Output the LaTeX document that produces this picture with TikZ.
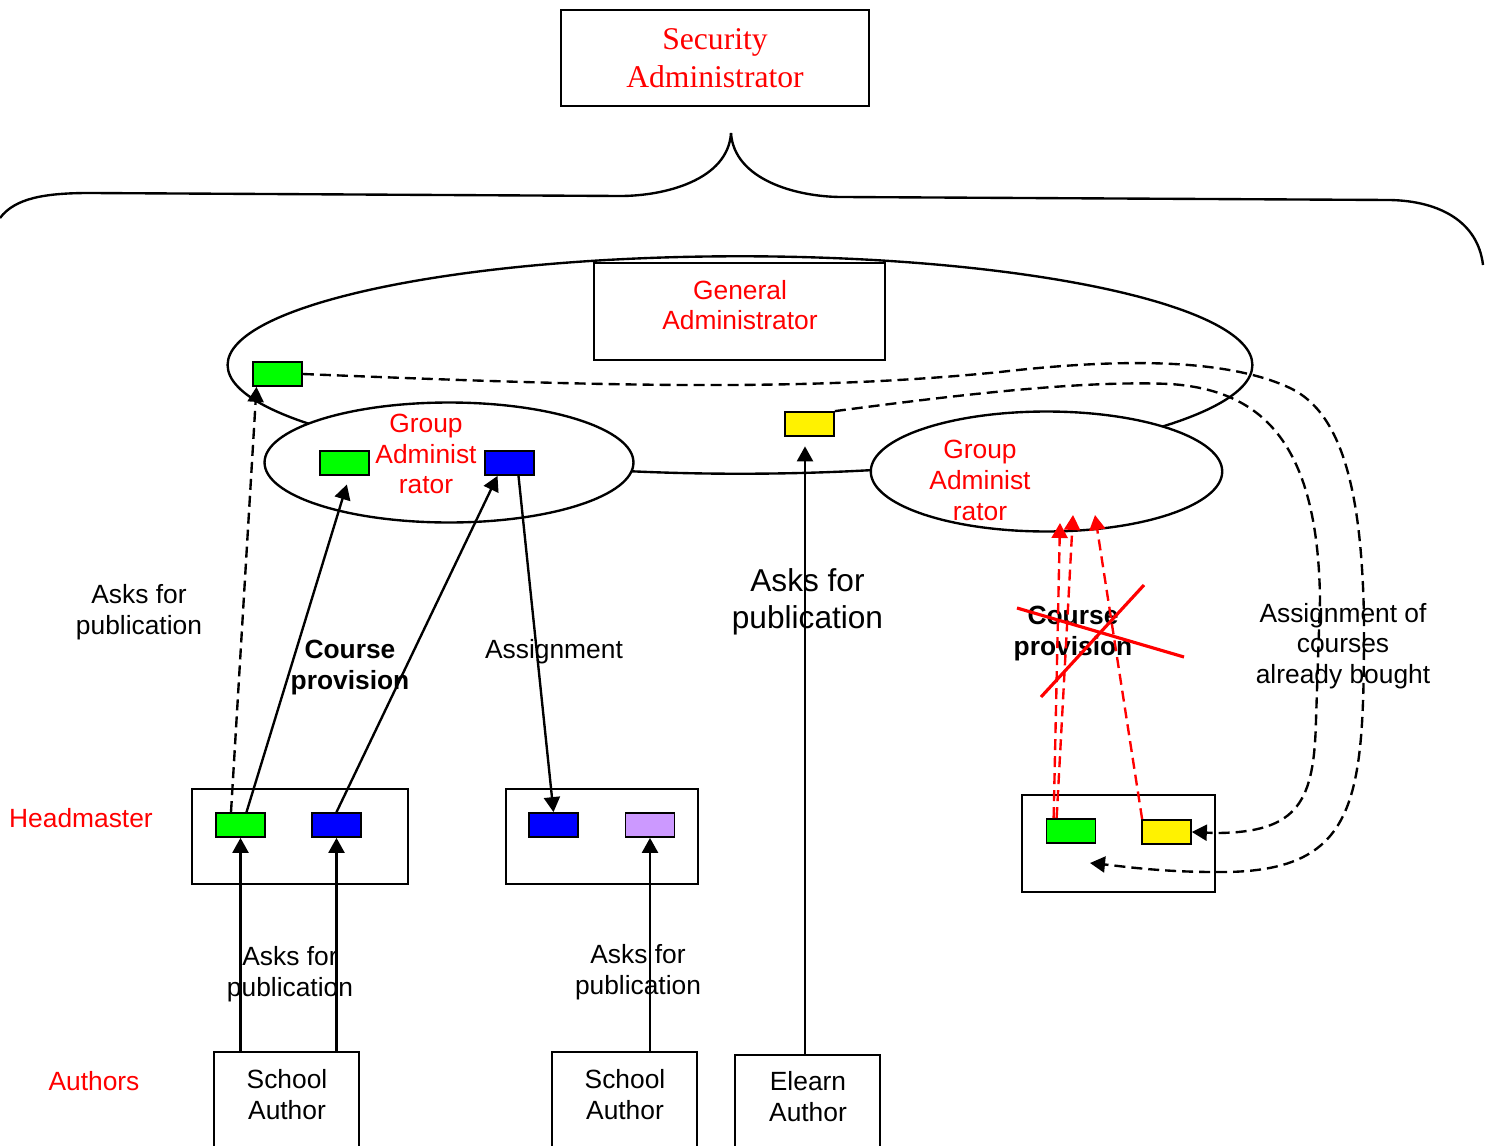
\documentclass[tikz,border=0pt]{standalone}
\usepackage{fontspec}
\setmainfont{Liberation Sans}
\newfontfamily\timesfont{Liberation Serif}
\usetikzlibrary{positioning,calc,shapes.geometric,arrows.meta}
\definecolor{lilac}{HTML}{CC99FF}

\begin{document}
\begin{tikzpicture}[x=0.02cm,y=-0.02cm,%
      line width=1.35pt,%
      txt/.style={align=center,inner sep=0pt,font=\fontsize{15}{17.5}\selectfont},%
      boldtxt/.style={txt,font=\fontsize{15}{17.5}\selectfont\bfseries},%
      redtxt/.style={txt,text=red},%
      plainbox/.style={draw,rectangle,inner sep=0pt},%
      cbox/.style={draw,rectangle,inner sep=0pt,minimum width=0.98cm,minimum height=0.48cm,line width=1pt},%
      oval/.style={draw,ellipse,fill=white,inner sep=0pt},%
      arr/.style={-{Triangle[length=0.3cm,width=0.32cm]}},%
      dashln/.style={dash pattern=on 0.22cm off 0.12cm},%
      redarr/.style={red,dashln,-{Triangle[length=0.3cm,width=0.32cm]}}]
      \useasboundingbox (0,0) rectangle (1491,1146);

      % % Security administrator and brace
      \node[plainbox,minimum width=6.16cm,minimum height=1.92cm,align=center,text=red,%
            font=\timesfont\fontsize{18}{21.6}\selectfont] (secBox) at (715,58) {Security\\Administrator};
      \draw (0,218) .. controls (15,198) and (45,193) .. (90,193) -- (620,196)
            .. controls (665,196) and (728,180) .. (731,133);
      \draw (731,133) .. controls (734,180) and (797,197) .. (842,197) -- (1390,200)
            .. controls (1440,201) and (1478,222) .. (1483,265);

      % % General administrator
      \node[oval,minimum width=20.5cm,minimum height=4.35cm] (bigEll) at (740,365) {};
      \node[plainbox,minimum width=5.82cm,minimum height=1.94cm] (genBox) at (739.5,311.5) {};
      \node[redtxt] (genLbl) at (740,305) {General\\Administrator};
      \node[cbox,fill=green] (topG) at (277.5,374) {};
      \node[cbox,fill=yellow] (topY) at (809.5,424) {};

      % % Group administrators
      \node[oval,minimum width=7.38cm,minimum height=2.4cm] (grpA) at (449,462.5) {};
      \node[redtxt] (grpALbl) at (426,454) {Group\\Administ\\rator};
      \node[cbox,fill=green] (grpAG) at (344.5,463) {};
      \node[cbox,fill=blue] (grpAB) at (509.5,463) {};
      \node[oval,minimum width=7.03cm,minimum height=2.4cm] (grpB) at (1046.5,471.5) {};
      \node[redtxt] (grpBLbl) at (980,480.5) {Group\\Administ\\rator};

      % % Headmaster level
      \node[plainbox,minimum width=4.32cm,minimum height=1.9cm] (hmBox) at (300,836.5) {};
      \node[cbox,fill=green] (hmG) at (240.5,825) {};
      \node[cbox,fill=blue] (hmB) at (336.5,825) {};
      \node[plainbox,minimum width=3.84cm,minimum height=1.9cm] (midBox) at (602,836.5) {};
      \node[cbox,fill=blue] (midB) at (553.5,825) {};
      \node[cbox,fill=lilac] (midP) at (650,825) {};
      \node[plainbox,minimum width=3.86cm,minimum height=1.94cm] (rtBox) at (1118.5,843.5) {};
      \node[cbox,fill=green] (rtG) at (1071,831) {};
      \node[cbox,fill=yellow] (rtY) at (1166.5,832) {};

      % % Authors
      \node[plainbox,minimum width=2.9cm,minimum height=1.96cm] (authA) at (286.5,1101) {};
      \node[txt] (authALbl) at (287,1094.5) {School\\Author};
      \node[plainbox,minimum width=2.9cm,minimum height=1.96cm] (authB) at (624.5,1101) {};
      \node[txt] (authBLbl) at (625,1094.5) {School\\Author};
      \node[plainbox,minimum width=2.9cm,minimum height=1.96cm] (authC) at (807.5,1104) {};
      \node[txt] (authCLbl) at (808,1096.5) {Elearn\\Author};

      % % Side labels
      \node[redtxt,anchor=west] (hmLbl) at (8,818) {Headmaster};
      \node[redtxt] (authLbl) at (94,1081) {Authors};

      % % Connector labels
      \node[txt] (askL) at (139,612) {Asks for\\publication};
      \node[boldtxt] (cpL) at (350,667.5) {Course\\provision};
      \node[txt] (assL) at (554,651.5) {Assignment};
      \node[txt,font=\fontsize{18}{21}\selectfont] (askM) at (807.5,602) {Asks for\\publication};
      \node[boldtxt] (cpR) at (1073,633.5) {Course\\provision};
      \node[txt] (assR) at (1343,646) {Assignment of\\courses\\already bought};
      \node[txt] (askHA) at (290,974.5) {Asks for\\publication};
      \node[txt] (askHB) at (638,972.5) {Asks for\\publication};

      % % Connectors
      \draw[arr] (hmG.south |- authA.north) -- (hmG.south);
      \draw[arr] (hmB.south |- authA.north) -- (hmB.south);
      \draw[arr] (midP.south |- authB.north) -- (midP.south);
      \draw[arr,shorten >=0.19cm] ($(authC.north)+(-2.5,0)$) -- ($(topY.south)+(-4.5,0)$);
      \draw[arr,shorten >=0.18cm] ($(hmG.north)+(6,0)$) -- ($(grpAG.south)+(5,0)$);
      \draw[arr] (hmB.north) -- ($(grpAB.south)+(-12,0)$);
      \draw[arr] ($(grpAB.south)+(9,0)$) -- (midB.north);
      \draw[arr,dashln] ($(hmG.north)+(-9.5,0)$) -- ($(topG.south)+(-21,0)$);

      % % Crossed out course provision
      \coordinate (tipA) at (1060,523);
      \coordinate (tipB) at (1073,515);
      \coordinate (tipC) at (1095,515);
      \draw[redarr] ($(rtG.north west)+(8,0)$) -- (tipA);
      \draw[redarr] ($(rtG.north west)+(11,0)$) -- (tipB);
      \draw[redarr] ($(rtY.north west)+(1,0)$) -- (tipC);
      \draw[red,line width=1.8pt] (1017,608) -- (1184,657);
      \draw[red,line width=1.8pt] (1144,585) -- (1041,697);

      % % Courses already bought
      \coordinate (rtIn) at (1090,863);
      \draw[arr,dashln] (topG.east) .. controls (600,386) and (800,392) .. (1000,372)
            .. controls (1130,357) and (1230,360) .. (1290,388)
            .. controls (1345,414) and (1362,500) .. (1364,620)
            .. controls (1364,800) and (1360,874) .. (1215,872)
            .. controls (1160,872) and (1120,866) .. (rtIn);
      \draw[arr,dashln] (topY.north east) .. controls (950,396) and (1080,380) .. (1170,384)
            .. controls (1260,390) and (1318,440) .. (1320,600) -- (1316,720)
            .. controls (1314,800) and (1300,833) .. (1215,833) -- (rtY.east);
  \end{tikzpicture}
\end{document}
